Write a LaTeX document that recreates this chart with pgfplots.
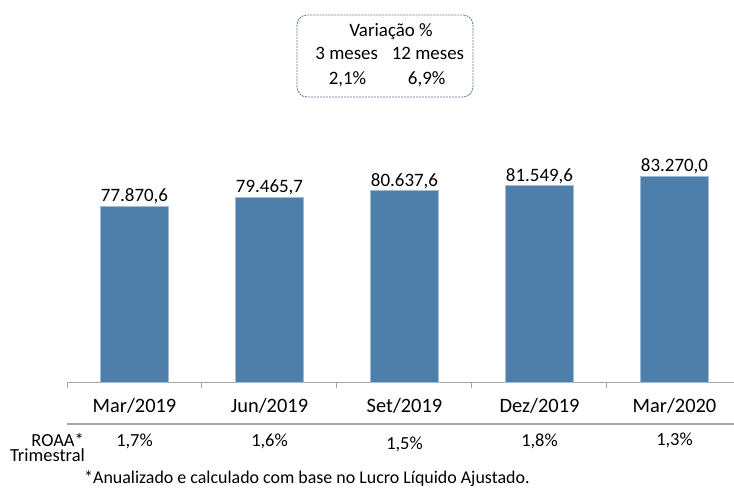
\documentclass[border=0pt]{standalone}
\usepackage{fontspec}
\setmainfont{Carlito}
\usepackage{pgfplots}
\pgfplotsset{compat=1.18}
\definecolor{barblue}{RGB}{78,126,170}
\definecolor{baredge}{RGB}{160,188,214}
\definecolor{axisgray}{RGB}{166,166,166}
\definecolor{boxblue}{RGB}{84,120,165}
\begin{document}
\begin{tikzpicture}
\path[use as bounding box] (0bp,0bp) rectangle (734bp,488bp);
\begin{axis}[
  at={(67bp,105.7bp)}, anchor=south west,
  scale only axis, width=667bp, height=232.3bp,
  xmin=-0.5, xmax=4.441, ymin=45830, ymax=88085,
  ybar, bar width=68bp,
  axis x line*=bottom, axis y line=none,
  x axis line style={axisgray, line width=1.2bp, -},
  xtick={-0.5,0.5,1.5,2.5,3.5}, xticklabels={},
  tick align=outside, major tick length=6bp,
  xtick style={axisgray, line width=1bp},
  ytick=\empty,
  nodes near coords,
  every node near coord/.append style={font=\fontsize{19}{22}\selectfont, anchor=base, yshift=4.5bp, inner sep=0pt},
  /pgf/number format/.cd, fixed, fixed zerofill, precision=1, use comma, 1000 sep={.}, assume math mode=true,
]
\addplot[fill=barblue, draw=baredge, line width=1bp] coordinates {
  (0,77870.6) (1,79465.7) (2,80637.6) (3,81549.6) (4,83270.0)
};
\end{axis}
% category labels
\begin{scope}[font=\fontsize{20.5}{24}\selectfont]
\node[anchor=base] at (134.5bp,75bp) {Mar/2019};
\node[anchor=base] at (269.5bp,75bp) {Jun/2019};
\node[anchor=base] at (404.5bp,75bp) {Set/2019};
\node[anchor=base] at (539.5bp,75bp) {Dez/2019};
\node[anchor=base] at (674.5bp,75bp) {Mar/2020};
\end{scope}
\draw[axisgray, line width=1.5bp] (67bp,64bp) -- (734bp,64bp);
% ROAA row
\begin{scope}[font=\fontsize{18.5}{21}\selectfont]
\node[anchor=base east, inner sep=0pt] at (84bp,41bp) {ROAA*};
\node[anchor=base east, inner sep=0pt] at (85bp,26.5bp) {Trimestral};
\node[anchor=base] at (134.5bp,41bp) {1,7\%};
\node[anchor=base] at (269.5bp,41bp) {1,6\%};
\node[anchor=base] at (404.5bp,39bp) {1,5\%};
\node[anchor=base] at (539.5bp,41bp) {1,8\%};
\node[anchor=base] at (674.5bp,42bp) {1,3\%};
\end{scope}
\node[anchor=base west, inner sep=0pt, font=\fontsize{18}{21}\selectfont] at (84bp,5bp)
  {*Anualizado e calculado com base no Lucro Líquido Ajustado.};
% variation box
\draw[boxblue, dash pattern=on 2bp off 1bp, line width=0.8bp, rounded corners=10bp]
  (297bp,391bp) rectangle (473bp,473bp);
\begin{scope}[font=\fontsize{19}{22}\selectfont]
\node[anchor=base] at (391bp,451.3bp) {Variação \%};
\node[anchor=base] at (346.7bp,428.7bp) {3 meses};
\node[anchor=base] at (428bp,428.7bp) {12 meses};
\node[anchor=base] at (347.5bp,403bp) {2,1\%};
\node[anchor=base] at (426.7bp,403bp) {6,9\%};
\end{scope}
\end{tikzpicture}
\end{document}
